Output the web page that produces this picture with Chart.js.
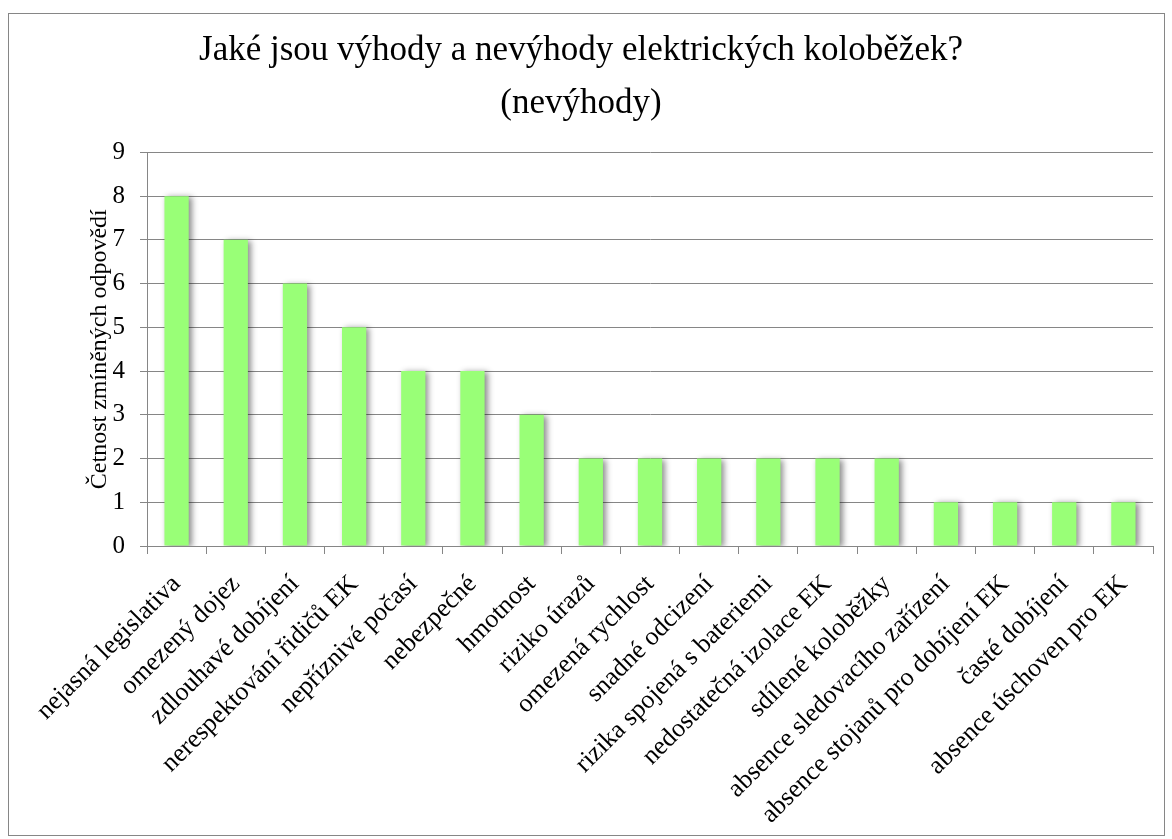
<!DOCTYPE html>
<html>
<head>
<meta charset="utf-8">
<script src="https://cdn.jsdelivr.net/npm/chart.js@4.4.0/dist/chart.umd.min.js"></script>
<style>
body { margin: 0; background: #fff; }
#box { position: absolute; left: 8px; top: 13px; width: 1155px; height: 821px; border: 1px solid #868686; }
canvas { display: block; }
</style>
</head>
<body>
<div id="box"><canvas id="chart" width="1155" height="821"></canvas></div>
<script>
const titleLines = ['Jaké jsou výhody a nevýhody elektrických koloběžek?', '(nevýhody)'];
const yTitle = 'Četnost zmíněných odpovědí';

const categories = [
  'nejasná legislativa',
  'omezený dojez',
  'zdlouhavé dobíjení',
  'nerespektování řidičů EK',
  'nepříznivé počasí',
  'nebezpečné',
  'hmotnost',
  'riziko úrazů',
  'omezená rychlost',
  'snadné odcizení',
  'rizika spojená s bateriemi',
  'nedostatečná izolace EK',
  'sdílené koloběžky',
  'absence sledovacího zařízení',
  'absence stojanů pro dobíjení EK',
  'časté dobíjení',
  'absence úschoven pro EK'
];
const counts = [8, 7, 6, 5, 4, 4, 3, 2, 2, 2, 2, 2, 2, 1, 1, 1, 1];

const yMin = 0, yMax = 9, yStep = 1;

const gridColor = '#868686';
const serif = 'Liberation Serif, Times New Roman, serif';

// soft grey shadow to the right of each bar
const barShadow = {
  id: 'barShadow',
  beforeDatasetsDraw(chart) {
    const c = chart.ctx;
    c.save();
    c.shadowColor = 'rgba(0,0,0,0.45)';
    c.shadowBlur = 6;
    c.shadowOffsetX = 3;
    c.shadowOffsetY = 1;
  },
  afterDatasetsDraw(chart) {
    chart.ctx.restore();
  }
};

new Chart(document.getElementById('chart'), {
  type: 'bar',
  data: {
    labels: categories,
    datasets: [{
      data: counts,
      backgroundColor: '#99ff77',
      borderWidth: 0,
      barPercentage: 0.41,
      categoryPercentage: 1
    }]
  },
  options: {
    responsive: false,
    animation: false,
    layout: { padding: { left: 0, right: 11, top: 0, bottom: 0 } },
    plugins: {
      legend: { display: false },
      tooltip: { enabled: false },
      title: {
        display: true,
        text: titleLines,
        color: '#000',
        font: { family: serif, size: 35, weight: 'normal', lineHeight: 1.52 },
        padding: { top: 10, bottom: 22 }
      }
    },
    scales: {
      x: {
        grid: { drawOnChartArea: false, offset: true, color: gridColor, tickLength: 8 },
        border: { color: gridColor },
        ticks: {
          color: '#000',
          font: { family: serif, size: 26 },
          minRotation: 45,
          maxRotation: 45,
          autoSkip: false,
          padding: 15
        },
        afterFit(scale) { scale.height = 289; }
      },
      y: {
        min: yMin,
        max: yMax,
        grid: { color: gridColor, tickLength: 7 },
        border: { color: gridColor },
        ticks: {
          stepSize: yStep,
          color: '#000',
          font: { family: serif, size: 25 },
          padding: 15
        },
        title: {
          display: true,
          text: yTitle,
          color: '#000',
          font: { family: serif, size: 24 },
          padding: { top: 76 }
        },
        afterFit(scale) { scale.width = 138; }
      }
    }
  },
  plugins: [barShadow]
});
</script>
</body>
</html>
